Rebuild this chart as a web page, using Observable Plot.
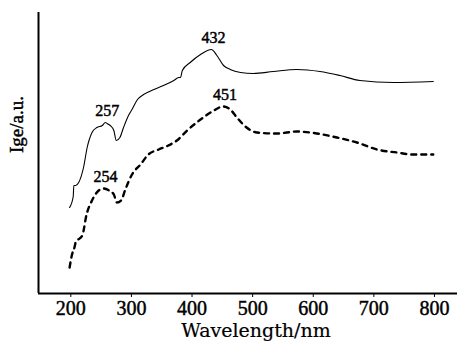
<!DOCTYPE html>
<html>
<head>
<meta charset="utf-8">
<script src="https://cdn.jsdelivr.net/npm/d3@7"></script>
<script src="https://cdn.jsdelivr.net/npm/@observablehq/plot@0.6"></script>
<style>
  html, body { margin: 0; padding: 0; background: #fff; }
  svg text { stroke: #000; stroke-width: 0.45px; }
  svg text.xlab { stroke-width: 0.2px; }
</style>
</head>
<body>
<div id="chart"></div>
<script>
// Wavelength (nm) and intensity (a.u.)
const solidWl  = [198, 204, 205, 208, 213, 221, 227, 235, 243, 252, 257, 260, 265, 271, 275, 281, 287, 296, 301, 310, 320, 337, 353, 370, 378, 381, 384, 397, 414, 432, 441, 452, 463, 480, 501, 534, 573, 611, 644, 677, 732, 798];
const solidVal = [86, 97, 108, 108, 111, 126, 146, 161, 166, 168, 171, 170, 168, 163, 153, 156, 166, 179, 184, 194, 199, 204, 208, 213, 216, 216, 223, 231, 239, 244, 238, 228, 224, 221, 220, 222, 224, 222, 218, 213, 211, 212];

const dashWl  = [198, 202, 206, 208, 219, 226, 235, 246, 254, 263, 271, 276, 283, 290, 301, 315, 328, 345, 361, 375, 392, 414, 436, 451, 463, 474, 488, 507, 540, 573, 606, 639, 672, 705, 738, 765, 798];
const dashVal = [26, 39, 46, 51, 58, 79, 93, 103, 105, 103, 99, 91, 93, 104, 119, 129, 139, 144, 148, 153, 163, 174, 183, 187, 184, 176, 167, 161, 160, 162, 160, 156, 151, 144, 141, 139, 139];

const peakWl  = [257, 432, 254, 451];
const peakVal = [171, 244, 105, 187];

const xTicks = [200, 300, 400, 500, 600, 700, 800];
const xDomain = [146.7, 838];
const yDomain = [0, 281];
const xLabel = "Wavelength/nm";
const yLabel = "Ige/a.u.";

const solid = solidWl.map((w, i) => ({w, v: solidVal[i]}));
const dashed = dashWl.map((w, i) => ({w, v: dashVal[i]}));
const peaks = peakWl.map((w, i) => ({w, v: peakVal[i], t: String(w)}));

const chart = Plot.plot({
  width: 457,
  height: 342,
  marginLeft: 38,
  marginRight: 0,
  marginTop: 12,
  marginBottom: 49,
  style: {fontFamily: "'Liberation Serif', serif", fontSize: "20px", color: "#000", background: "#fff"},
  x: {domain: xDomain, ticks: xTicks, tickSize: 4, tickPadding: 3, label: null},
  y: {domain: yDomain, axis: null},
  marks: [
    Plot.ruleY([yDomain[0]], {stroke: "#000", strokeWidth: 2}),
    Plot.ruleX([xDomain[0]], {stroke: "#000", strokeWidth: 2}),
    Plot.line(solid, {x: "w", y: "v", stroke: "#000", strokeWidth: 1.1, curve: "monotone-x"}),
    Plot.line(dashed, {x: "w", y: "v", stroke: "#000", strokeWidth: 2.4, strokeDasharray: "5,5", curve: "monotone-x"}),
    Plot.text(peaks, {x: "w", y: "v", text: "t", dy: -12, dx: 2, fontSize: 16, fill: "#000"}),
    Plot.text([xLabel], {frameAnchor: "bottom", dy: 43, dx: 8, fontSize: 19, fontFamily: "'DejaVu Serif', serif", fill: "#000"}),
    Plot.text([yLabel], {frameAnchor: "left", rotate: -90, dx: -22, fontSize: 19, fill: "#000"})
  ]
});
chart.querySelectorAll("g[aria-label='text']").forEach(g => {
  if (g.textContent.trim() === xLabel) g.querySelectorAll("text").forEach(t => t.classList.add("xlab"));
});
document.getElementById("chart").appendChild(chart);
</script>
</body>
</html>
